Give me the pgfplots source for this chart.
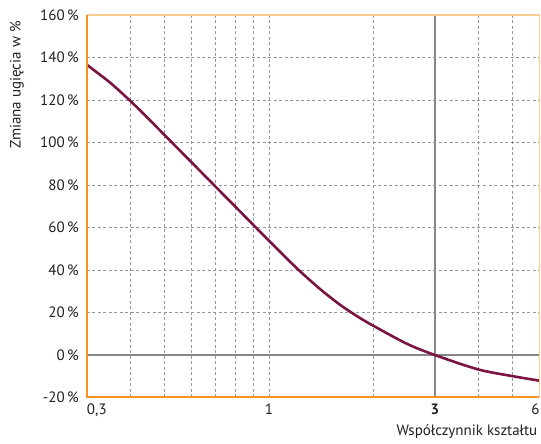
\documentclass[border=0pt]{standalone}
\usepackage{fontspec}
\setmainfont{PT Sans}
\usepackage{pgfplots}
\pgfplotsset{compat=1.18}
\definecolor{axorange}{RGB}{246,146,30}
\definecolor{axpale}{RGB}{250,205,150}
\definecolor{curve}{RGB}{122,20,66}
\definecolor{gridgray}{RGB}{150,150,150}
\definecolor{linegray}{RGB}{135,135,135}
\definecolor{txt}{RGB}{35,31,32}
\begin{document}
\fontsize{15}{17}\selectfont
\begin{tikzpicture}
  \begin{axis}[
    scale only axis,
    width=452.5pt, height=382.5pt,
    xmode=log,
    xmin=0.3, xmax=6,
    ymin=-20, ymax=160,
    clip=false,
    axis line style={draw=none},
    major tick length=0pt, minor tick length=0pt,
    xtick={0.3,1,3,6},
    xticklabels={\rlap{0,3},1,\textbf{3},\llap{6}},
    minor xtick={0.4,0.5,0.6,0.7,0.8,0.9,2,4,5},
    ytick={-20,0,20,40,60,80,100,120,140,160},
    yticklabels={-20\,\%,0\,\%,20\,\%,40\,\%,60\,\%,80\,\%,100\,\%,120\,\%,140\,\%,160\,\%},
    yticklabel style={xshift=-3pt, text=txt},
    xticklabel style={yshift=-1pt, inner xsep=0pt, text=txt},
    xmajorgrids, xminorgrids, ymajorgrids,
    grid style={gridgray, line width=0.7pt, dash pattern=on 3pt off 2.5pt},
  ]
    % solid reference lines
    \draw[linegray, line width=2pt] (axis cs:0.3,0) -- (axis cs:6,0);
    \draw[linegray, line width=2pt] (axis cs:3,-20) -- (axis cs:3,160);

    \addplot[curve, line width=2.6pt, smooth, tension=0.5, mark=none] coordinates {
      (0.3,136.5)
      (0.35,128.1)
      (0.4,119.5)
      (0.45,111.3)
      (0.5,103.7)
      (0.6,90.6)
      (0.7,79.5)
      (0.8,69.9)
      (0.9,61.4)
      (1,53.8)
      (1.2,41.0)
      (1.4,31.2)
      (1.6,23.7)
      (1.8,18.1)
      (2,13.7)
      (2.5,5.2)
      (3,0)
      (4,-6.8)
      (5,-9.9)
      (6,-12.1)
    };

    % frame
    \draw[axpale, line width=1.2pt] (rel axis cs:0,1) -- (rel axis cs:1,1) -- (rel axis cs:1,0);
    \draw[axorange, line width=2pt] (rel axis cs:0,1) -- (rel axis cs:0,0) -- (rel axis cs:1,0);

    \node[anchor=north east, inner sep=0pt, text=txt] at ([xshift=-2pt,yshift=-27pt]rel axis cs:1,0) {Współczynnik kształtu};
    \node[rotate=90, anchor=south east, inner sep=0pt, text=txt] at ([xshift=-63pt,yshift=-6pt]rel axis cs:0,1) {Zmiana ugięcia w \%};

    \path ([xshift=-87pt,yshift=-46.5pt]rel axis cs:0,0) rectangle ([xshift=1.5pt,yshift=15pt]rel axis cs:1,1);
  \end{axis}
\end{tikzpicture}
\end{document}
